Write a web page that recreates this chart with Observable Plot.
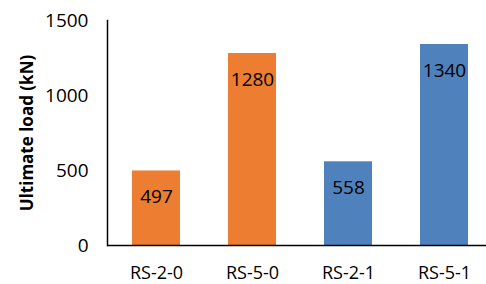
<!DOCTYPE html>
<html>
<head>
<meta charset="utf-8">
<script src="https://cdn.jsdelivr.net/npm/d3@7"></script>
<script src="https://cdn.jsdelivr.net/npm/@observablehq/plot@0.6"></script>
<style>
  html, body { margin: 0; padding: 0; background: #fff; }
  #chart svg { display: block; }
</style>
</head>
<body>
<div id="chart"></div>
<script>
const categories = ["RS-2-0", "RS-5-0", "RS-2-1", "RS-5-1"];
const values = [497, 1280, 558, 1340];
const barColors = ["#ED7D31", "#ED7D31", "#4F81BD", "#4F81BD"];
const yTicks = [0, 500, 1000, 1500];
const yLabel = "Ultimate load (kN)";

const data = categories.map((c, i) => ({ name: c, value: values[i], color: barColors[i] }));

const chart = Plot.plot({
  width: 486,
  height: 284,
  marginLeft: 107,
  marginRight: 0,
  marginTop: 20,
  marginBottom: 39,
  style: { fontFamily: "'Open Sans', sans-serif", fontSize: "19px", color: "#000", background: "#fff" },
  x: { domain: categories, range: [107, 492], paddingInner: 0.5, paddingOuter: 0.25, label: null },
  y: { domain: [0, 1500], ticks: yTicks, label: yLabel },
  marks: [
    Plot.barY(data, { x: "name", y: "value", fill: "color" }),
    Plot.text(data, { x: "name", y: "value", text: d => String(d.value), dy: 26, fill: "#000", fontSize: 19 }),
    Plot.ruleY([0], { stroke: "#000", strokeWidth: 1.5 }),
    Plot.frame({ anchor: "left", stroke: "#000", strokeWidth: 1.5 }),
    Plot.axisY({ ticks: yTicks, tickFormat: d => String(d), tickSize: 0, tickPadding: 19, fontSize: 19, label: yLabel, labelAnchor: "center", labelArrow: "none", labelOffset: 87 }),
    Plot.axisX({ tickSize: 0, tickPadding: 21, fontSize: 18, label: null })
  ]
});

document.getElementById("chart").appendChild(chart);
const svg = d3.select(chart);
svg.selectAll("[aria-label='y-axis label'] text").style("font-weight", "bold").style("font-size", "17px");
</script>
</body>
</html>
